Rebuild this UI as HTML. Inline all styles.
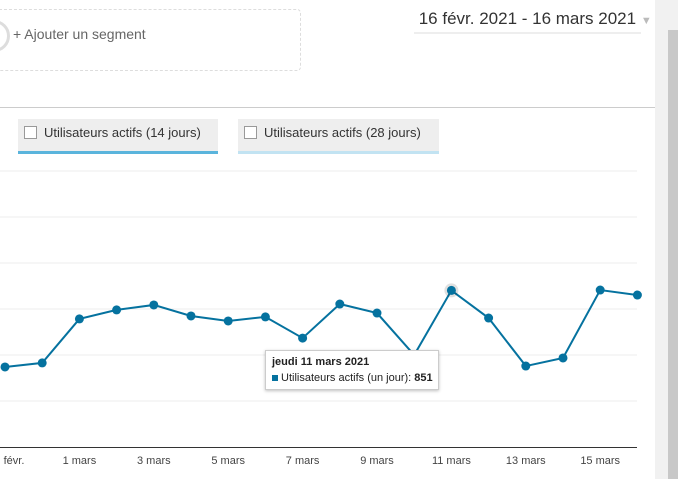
<!DOCTYPE html>
<html><head><meta charset="utf-8"><style>
body{margin:0;width:678px;height:479px;overflow:hidden;background:#fff;font-family:"Liberation Sans",Arial,sans-serif;position:relative}
.abs{position:absolute}
</style></head><body>
<div class="abs" style="left:-10px;top:9px;width:309px;height:60px;border:1px dashed #ddd;border-radius:4px"></div>
<div class="abs" style="left:-22px;top:20px;width:26px;height:26px;border:3px solid #ddd;border-radius:50%"></div>
<div class="abs" style="left:13px;top:26px;font-size:14px;color:#666">+ Ajouter un segment</div>
<div class="abs" style="left:414px;top:9px;width:227px;height:23px;border-bottom:2px solid #eee;font-size:17px;color:#333;white-space:nowrap">&nbsp;16 févr. 2021 - 16 mars 2021 <span style="color:#bbb;font-size:11px">▼</span></div>
<div class="abs" style="left:0;top:107px;width:655px;height:1px;background:#ccc"></div>
<div class="abs" style="left:18px;top:119px;width:200px;height:32px;background:#eee;border-bottom:3px solid #5ab4dc;font-size:13px;color:#333">
<span style="position:absolute;left:6px;top:7px;width:11px;height:11px;border:1px solid #999;background:#fff"></span><span style="position:absolute;left:26px;top:6px">Utilisateurs actifs (14 jours)</span></div>
<div class="abs" style="left:238px;top:119px;width:201px;height:32px;background:#eee;border-bottom:3px solid #c2e3f2;font-size:13px;color:#333">
<span style="position:absolute;left:6px;top:7px;width:11px;height:11px;border:1px solid #999;background:#fff"></span><span style="position:absolute;left:26px;top:6px">Utilisateurs actifs (28 jours)</span></div>
<div class="abs" style="left:655px;top:0;width:23px;height:479px;background:#f1f1f1"></div>
<div class="abs" style="left:668px;top:30px;width:10px;height:449px;background:#c8c8c8"></div>
<svg class="abs" style="left:0;top:0" width="655" height="479" id="chart"></svg>
<div class="abs" style="left:265px;top:350px;width:172px;height:38px;background:#fff;border:1px solid #ccc;box-shadow:0 1px 3px rgba(0,0,0,.25);font-size:11px;color:#222">
<div style="position:absolute;left:6px;top:5px;font-weight:bold">jeudi 11 mars 2021</div>
<div style="position:absolute;left:6px;top:21px;white-space:nowrap"><span style="display:inline-block;width:6px;height:6px;background:#05729f;margin-right:3px"></span>Utilisateurs actifs (un jour): <b>851</b></div>
</div>
<script>
const labels=["27 févr.","28 févr.","1 mars","2 mars","3 mars","4 mars","5 mars","6 mars","7 mars","8 mars","9 mars","10 mars","11 mars","12 mars","13 mars","14 mars","15 mars","16 mars"];
const values=[435,457,696,745,772,712,685,707,592,777,728,500,851,701,440,484,853,826];
const yTicks=[0,250,500,750,1000,1250,1500];
const xTickLabels=["févr.","1 mars","3 mars","5 mars","7 mars","9 mars","11 mars","13 mars","15 mars"];
const xTickIdx=[0,2,4,6,8,10,12,14,16];
const svg=document.getElementById('chart');const NS="http://www.w3.org/2000/svg";
const x=i=>5+37.2*i;const y=v=>447-v*276/1500;
function mk(t,a,n){const e=document.createElementNS(NS,t);for(const k in a)e.setAttribute(k,a[k]);svg.appendChild(e);return e;}
yTicks.forEach(t=>{if(t>0){const l=mk('line',{x1:0,x2:637,y1:y(t),y2:y(t),stroke:'#eee','stroke-width':1},'gridline');}});
mk('line',{x1:0,x2:637,y1:447.5,y2:447.5,stroke:'#333','stroke-width':1},'x-axis');
xTickIdx.forEach((i,k)=>{const t=mk('text',{x:i===0?14:x(i),y:464,'text-anchor':'middle','font-size':11,fill:'#444','font-family':'Liberation Sans, Arial, sans-serif'},'x-tick-label');t.textContent=xTickLabels[k];});
mk('polyline',{points:values.map((v,i)=>x(i)+','+y(v)).join(' '),fill:'none',stroke:'#05729f','stroke-width':2},'series-line');
mk('circle',{cx:x(12),cy:y(values[12]),r:7,fill:'rgba(0,0,0,0.12)'},'hover-halo');
values.forEach((v,i)=>{mk('circle',{cx:x(i),cy:y(v),r:4.5,fill:'#05729f'},'data-point');});
</script>
</body></html>
